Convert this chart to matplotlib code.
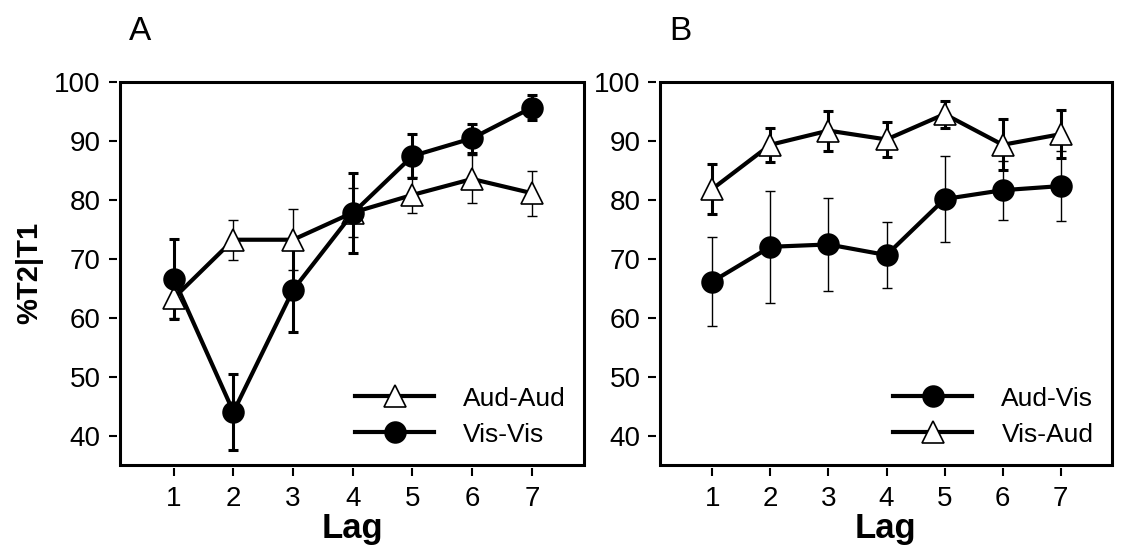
import matplotlib
matplotlib.use("Agg")
import matplotlib.pyplot as plt
from matplotlib.patches import Rectangle

plt.rcParams['font.family'] = ['Liberation Sans', 'DejaVu Sans']

lags = [1, 2, 3, 4, 5, 6, 7]
yticks = [40, 50, 60, 70, 80, 90, 100]

# Panel A
aud_aud = [63.3, 73.2, 73.2, 77.8, 80.8, 83.5, 81.1]
aud_aud_err = [3.4, 3.4, 5.2, 4.2, 3.0, 4.0, 3.8]
vis_vis = [66.6, 44.0, 64.7, 77.7, 87.4, 90.4, 95.6]
vis_vis_err = [6.8, 6.4, 7.2, 6.8, 3.7, 2.5, 2.1]

# Panel B
aud_vis = [66.1, 72.0, 72.4, 70.6, 80.1, 81.6, 82.3]
aud_vis_err = [7.6, 9.5, 7.9, 5.6, 7.3, 5.0, 6.0]
vis_aud = [81.8, 89.3, 91.7, 90.2, 94.5, 89.3, 91.1]
vis_aud_err = [4.3, 2.9, 3.4, 3.0, 2.3, 4.3, 4.1]

fig = plt.figure(figsize=(11.27, 5.5), dpi=100)
axA = fig.add_axes([0.1065, 0.1545, 0.412, 0.697])
axB = fig.add_axes([0.5856, 0.1545, 0.401, 0.697])

LW = 3.0
MS = 15


def plot_series(ax, y, err, marker, thick, label):
    fc = 'black' if marker == 'o' else 'white'
    elw = 2.2 if thick else 1.0
    ms = MS if marker == 'o' else MS + 1
    ax.errorbar(lags, y, yerr=err, fmt='none', ecolor='black',
                elinewidth=elw, capsize=3.5, capthick=elw, zorder=2)
    ax.plot(lags, y, color='black', lw=LW, marker=marker, ms=ms,
            mfc=fc, mec='black', mew=1.2, label=label, zorder=3)


def style(ax, panel):
    for s in ax.spines.values():
        s.set_visible(False)
    ax.spines['left'].set_position(('outward', 2.5))
    ax.spines['bottom'].set_position(('outward', 2.5))
    ax.add_patch(Rectangle((0, 0), 1, 1, transform=ax.transAxes, fill=False,
                           lw=2.2, edgecolor='black', clip_on=False, zorder=5))
    ax.set_xlim(0.1, 7.88)
    ax.set_ylim(35, 100)
    ax.set_xticks(lags)
    ax.set_yticks(yticks)
    ax.tick_params(axis='both', direction='out', length=5.5, width=1.5,
                   labelsize=20, pad=6)
    ax.tick_params(axis='x', pad=7)
    ax.set_xlabel('Lag', fontsize=25, fontweight='bold', labelpad=0)
    ax.text(0.02, 1.09, panel, transform=ax.transAxes, fontsize=24,
            ha='left', va='bottom')


plot_series(axA, aud_aud, aud_aud_err, '^', False, 'Aud-Aud')
plot_series(axA, vis_vis, vis_vis_err, 'o', True, 'Vis-Vis')
plot_series(axB, aud_vis, aud_vis_err, 'o', False, 'Aud-Vis')
plot_series(axB, vis_aud, vis_aud_err, '^', True, 'Vis-Aud')

style(axA, 'A')
style(axB, 'B')
axA.set_ylabel('%T2|T1', fontsize=21, fontweight='bold', labelpad=8)

for ax in (axA, axB):
    ax.legend(loc='lower right', bbox_to_anchor=(1.0, 0.0), frameon=False,
              fontsize=19, handlelength=3.0, handletextpad=1.1,
              labelspacing=0.45, numpoints=1, borderaxespad=0.3)

fig.savefig('out.png', dpi=100)
